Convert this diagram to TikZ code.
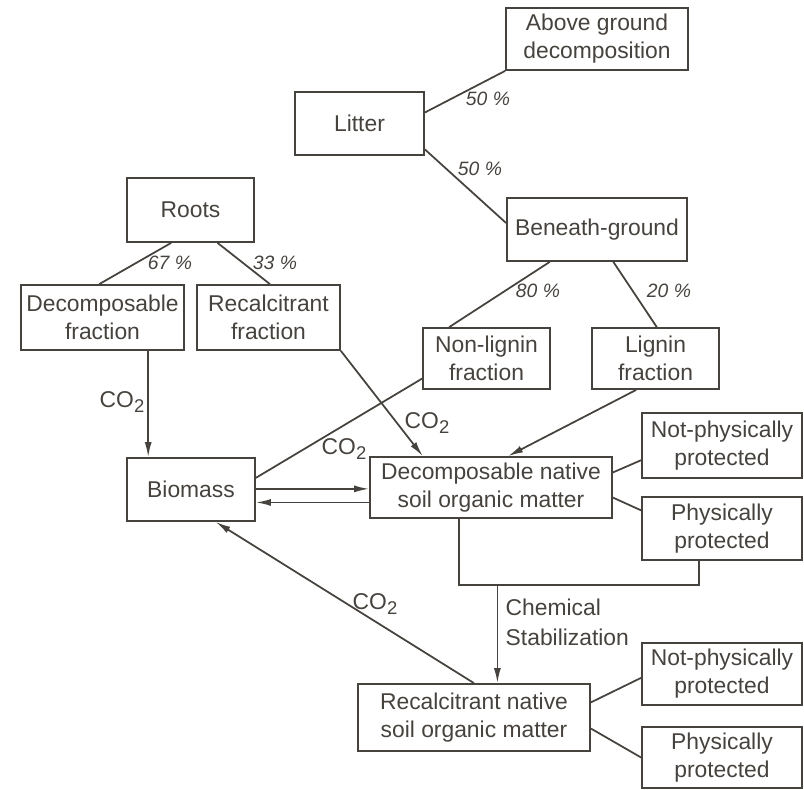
\documentclass[tikz,border=0pt]{standalone}
\usepackage{fontspec}
\setmainfont{Liberation Sans}
\usepackage{tikz}
\usetikzlibrary{calc,arrows.meta}
\definecolor{ink}{RGB}{70,66,62}
\newcommand{\cotwo}{CO\raisebox{-0.35ex}{\fontsize{10.5}{12}\selectfont 2}}

\begin{document}
\begin{tikzpicture}[x=0.02cm, y=-0.02cm, line width=1pt, color=ink,
		>={Latex[length=3mm,width=1.4mm]},
		box/.style={draw, align=center, inner sep=1pt, font=\fontsize{13}{16}\selectfont},
		sz/.style 2 args={minimum width=#1*0.02cm, minimum height=#2*0.02cm},
		pct/.style={font=\itshape\fontsize{11}{12}\selectfont},
		lbl/.style={font=\fontsize{13}{17}\selectfont}]
		\useasboundingbox (0,0) rectangle (804,789);

		% Litter and its split.
		\node[box, sz={182}{62}] (above) at (597,39) {Above ground\\decomposition};
		\node[box, sz={129}{63}] (litter) at (359.5,123.5) {Litter};
		\node[box, sz={180}{63}] (beneath) at (597,229.5) {Beneath-ground};
		\draw ($(litter.north east)!0.33!(litter.south east)$) -- (above.south west);
		\draw ($(litter.north east)!0.9!(litter.south east)$) -- ($(beneath.north west)!0.4!(beneath.south west)$);
		\node[pct] (p50a) at (488,99) {50 \%};
		\node[pct] (p50b) at (480,169) {50 \%};

		% Roots and its split.
		\node[box, sz={127}{64}] (roots) at (190.5,210) {Roots};
		\node[box, sz={163}{65}] (decfrac) at (102.5,317.5) {Decomposable\\fraction};
		\node[box, sz={143}{65}] (recfrac) at (268.5,317.5) {Recalcitrant\\fraction};
		\draw ($(roots.south west)!0.35!(roots.south east)$) -- ($(decfrac.north west)!0.48!(decfrac.north east)$);
		\draw ($(roots.south west)!0.71!(roots.south east)$) -- ($(recfrac.north west)!0.51!(recfrac.north east)$);
		\node[pct] (p67) at (170,263) {67 \%};
		\node[pct] (p33) at (275,263) {33 \%};

		% Beneath-ground split.
		\node[box, sz={127}{61}] (nonlig) at (486.5,358.5) {Non-lignin\\fraction};
		\node[box, sz={127}{61}] (lignin) at (655.5,358.5) {Lignin\\fraction};
		\draw ($(beneath.south west)!0.24!(beneath.south east)$) -- ($(nonlig.north west)!0.21!(nonlig.north east)$);
		\draw ($(beneath.south west)!0.59!(beneath.south east)$) -- ($(lignin.north west)!0.51!(lignin.north east)$);
		\node[pct] (p80) at (538,291) {80 \%};
		\node[pct] (p20) at (669,291) {20 \%};

		% Soil pools.
		\node[box, sz={128}{63}] (biomass) at (191,489.5) {Biomass};
		\node[box, sz={242}{61}] (decnat) at (491,487.5) {Decomposable native\\soil organic matter};
		\node[box, sz={160}{65}] (notphysA) at (722,445.5) {Not-physically\\protected};
		\node[box, sz={160}{63}] (physA) at (722,528.5) {Physically\\protected};
		\node[box, sz={232}{67}] (recnat) at (474,717.5) {Recalcitrant native\\soil organic matter};
		\node[box, sz={160}{62}] (notphysB) at (722,674) {Not-physically\\protected};
		\node[box, sz={160}{61}] (physB) at (722,757.5) {Physically\\protected};

		% Flows into biomass and native matter.
		\coordinate (bioin) at ($(biomass.north west)!0.17!(biomass.north east)$);
		\draw[->] (decfrac.south -| bioin) -- (bioin);
		\node[lbl] (co2a) at (122,402) {\cotwo};

		\draw[->] (recfrac.south east) -- ($(decnat.north west)!0.22!(decnat.north east)$);
		\node[lbl] (co2b) at (427,423) {\cotwo};

		\draw ($(nonlig.north west)!0.82!(nonlig.south west)$) -- ($(biomass.north east)!0.32!(biomass.south east)$);
		\node[lbl] (co2c) at (344,449) {\cotwo};

		\draw[->] ($(lignin.south west)!0.35!(lignin.south east)$) -- ($(decnat.north west)!0.57!(decnat.north east)$);

		\coordinate (bioout) at ($(biomass.north east)!0.49!(biomass.south east)$);
		\coordinate (bioback) at ($(biomass.north east)!0.7!(biomass.south east)$);
		\draw[->] (bioout) -- (bioout -| decnat.west);
		\draw[->] (bioback -| decnat.west) -- (bioback);

		\draw ($(decnat.north east)!0.26!(decnat.south east)$) -- ($(notphysA.north west)!0.72!(notphysA.south west)$);
		\draw ($(decnat.north east)!0.66!(decnat.south east)$) -- ($(physA.north west)!0.22!(physA.south west)$);

		% Chemical stabilization.
		\draw ($(decnat.south west)!0.37!(decnat.south east)$) -- ++(0,66) coordinate (brl)
			-| ($(physA.south west)!0.36!(physA.south east)$);
		\coordinate (stab) at ($(recnat.north west)!0.6!(recnat.north east)$);
		\draw[->] (stab |- brl) -- (stab);
		\node[lbl, anchor=west, align=left] (chem) at (499,622) {Chemical\\Stabilization};

		\draw[->] (recnat.north) -- ($(biomass.south west)!0.69!(biomass.south east)$);
		\node[lbl] (co2d) at (375,604) {\cotwo};

		\draw ($(recnat.north east)!0.28!(recnat.south east)$) -- ($(notphysB.north west)!0.56!(notphysB.south west)$);
		\draw ($(recnat.north east)!0.66!(recnat.south east)$) -- (physB.west);
	\end{tikzpicture}
\end{document}
